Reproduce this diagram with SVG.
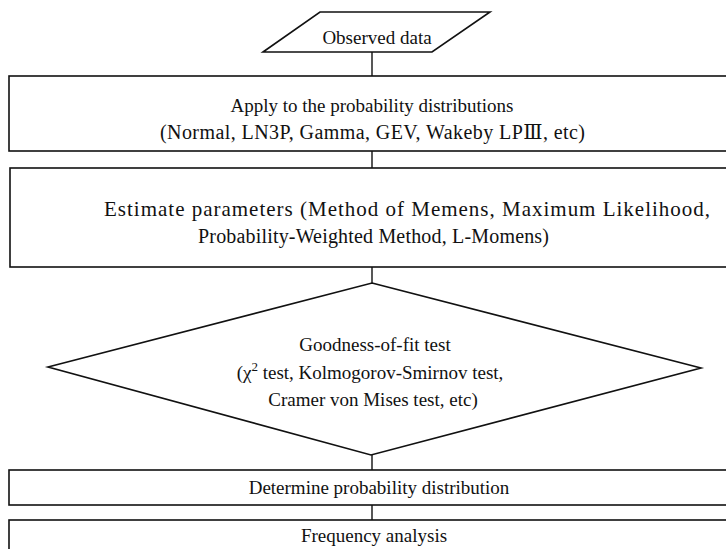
<svg xmlns="http://www.w3.org/2000/svg" width="726" height="549" viewBox="0 0 726 549">
<style>
.s{fill:none;stroke:#111;stroke-width:1.6}
.t{font-family:"Liberation Serif","DejaVu Serif","Times New Roman",serif;font-size:19px;fill:#111;text-anchor:middle}
.l{text-anchor:start}
.c{stroke:#111;stroke-width:1.4;fill:none}
</style>
<rect width="726" height="549" fill="#fff"/>
<g id="connectors">
<line class="c" x1="372" y1="52" x2="372" y2="76"/>
<line class="c" x1="372" y1="151" x2="372" y2="168"/>
<line class="c" x1="372" y1="267" x2="372" y2="283"/>
<line class="c" x1="372" y1="455" x2="372" y2="470"/>
<line class="c" x1="372" y1="505" x2="372" y2="520"/>
</g>
<g id="observed">
<polygon class="s" points="263,52 320,12 490,12 432,52"/>
<text class="t" x="377" y="44">Observed data</text>
</g>
<g id="apply">
<rect class="s" x="9" y="76" width="725" height="75"/>
<text class="t" x="372" y="112">Apply to the probability distributions</text>
<text class="t l" x="160" y="139" style="font-size:20px" textLength="425" lengthAdjust="spacing">(Normal, LN3P, Gamma, GEV, Wakeby LPⅢ, etc)</text>
</g>
<g id="estimate">
<rect class="s" x="10" y="168" width="725" height="99"/>
<text class="t l" x="104" y="216" style="font-size:21px" textLength="606" lengthAdjust="spacing">Estimate parameters (Method of Memens, Maximum Likelihood,</text>
<text class="t l" x="198" y="243" style="font-size:20px" textLength="351" lengthAdjust="spacing">Probability-Weighted Method, L-Momens)</text>
</g>
<g id="gof">
<polygon class="s" points="372,283 701,368 371,455 48,367"/>
<text class="t" x="375" y="351">Goodness-of-fit test</text>
<text class="t" x="370" y="379">(χ<tspan style="font-size:13px" dy="-8">2</tspan><tspan dy="8"> test, Kolmogorov-Smirnov test,</tspan></text>
<text class="t" x="373" y="406">Cramer von Mises test, etc)</text>
</g>
<g id="determine">
<rect class="s" x="9" y="470" width="725" height="35"/>
<text class="t" x="379" y="494">Determine probability distribution</text>
</g>
<g id="frequency">
<rect class="s" x="9" y="520" width="725" height="40"/>
<text class="t" x="374" y="542">Frequency analysis</text>
</g>
</svg>
